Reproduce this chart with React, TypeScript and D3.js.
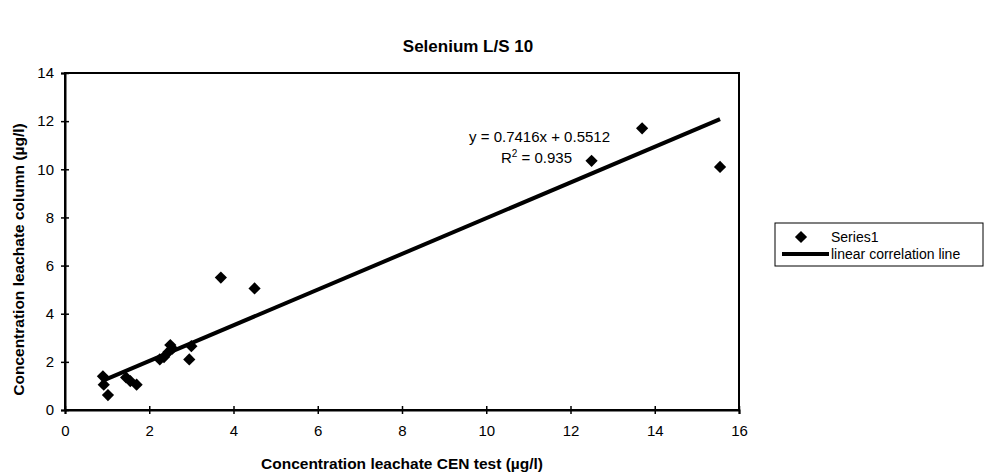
import React, { useRef, useEffect } from 'react'
import * as d3 from 'd3'

// measured values (µg/l)
const cenValues = [0.9, 0.92, 1.02, 1.45, 1.55, 1.7, 2.25, 2.35, 2.45, 2.5, 2.55, 2.95, 3.0, 3.7, 4.5, 12.5, 13.7, 15.55]
const columnValues = [1.4, 1.05, 0.62, 1.35, 1.2, 1.05, 2.1, 2.2, 2.4, 2.7, 2.55, 2.1, 2.65, 5.5, 5.05, 10.35, 11.7, 10.1]
const xTicks = [0, 2, 4, 6, 8, 10, 12, 14, 16]
const yTicks = [0, 2, 4, 6, 8, 10, 12, 14]
const slope = 0.7416
const intercept = 0.5512

const FONT = 'Arial, "Liberation Sans", sans-serif'

export default function App() {
  const svgRef = useRef<SVGSVGElement>(null)

  useEffect(() => {
    if (!svgRef.current) return
    const svg = d3.select(svgRef.current)
    svg.selectAll('*').remove()

    const width = 991
    const height = 475
    const plot = { left: 65, right: 739, top: 73, bottom: 410 }

    svg.append('rect').attr('width', width).attr('height', height).attr('fill', '#fff')

    const x = d3.scaleLinear().domain([0, 16]).range([plot.left, plot.right])
    const y = d3.scaleLinear().domain([0, 14]).range([plot.bottom, plot.top])

    // plot border
    svg.append('rect')
      .attr('x', plot.left).attr('y', plot.top)
      .attr('width', plot.right - plot.left).attr('height', plot.bottom - plot.top)
      .attr('fill', 'none').attr('stroke', '#000').attr('stroke-width', 2)

    // axes
    const xAxis = svg.append('g')
      .attr('transform', `translate(0,${plot.bottom})`)
      .call(d3.axisBottom(x).tickValues(xTicks).tickSize(4).tickPadding(11).tickFormat(d3.format('d')))
    const yAxis = svg.append('g')
      .attr('transform', `translate(${plot.left},0)`)
      .call(d3.axisLeft(y).tickValues(yTicks).tickSize(4).tickPadding(7).tickFormat(d3.format('d')))

    ;[xAxis, yAxis].forEach(a => {
      a.select('.domain').attr('stroke', '#000').attr('stroke-width', 2)
      a.selectAll('line').attr('stroke', '#000').attr('stroke-width', 1.5)
      a.selectAll('text').attr('font-family', FONT).attr('font-size', 15).attr('fill', '#000')
    })
    xAxis.selectAll('.tick line').attr('y1', -4)
    yAxis.selectAll('.tick line').attr('x1', 4)

    // regression line
    const xMin = d3.min(cenValues) as number
    const xMax = d3.max(cenValues) as number
    svg.append('line')
      .attr('x1', x(xMin)).attr('y1', y(slope * xMin + intercept))
      .attr('x2', x(xMax)).attr('y2', y(slope * xMax + intercept))
      .attr('stroke', '#000').attr('stroke-width', 4)

    // points
    const diamond = d3.symbol().type(d3.symbolDiamond2).size(95)
    svg.append('g').selectAll('path')
      .data(cenValues.map((v, i) => [v, columnValues[i]]))
      .enter().append('path')
      .attr('d', diamond)
      .attr('transform', d => `translate(${x(d[0])},${y(d[1])})`)
      .attr('fill', '#000')

    // equation
    const eq = svg.append('g').attr('font-family', FONT).attr('font-size', 15).attr('fill', '#000')
    eq.append('text').attr('x', 610).attr('y', 142).attr('text-anchor', 'end')
      .text(`y = ${slope}x + ${intercept}`)
    const r2 = eq.append('text').attr('x', 572).attr('y', 163).attr('text-anchor', 'end')
    r2.append('tspan').text('R')
    r2.append('tspan').attr('font-size', 10).attr('dy', -6).text('2')
    r2.append('tspan').attr('dy', 6).text(' = 0.935')

    // title
    svg.append('text').attr('x', 468).attr('y', 52).attr('text-anchor', 'middle')
      .attr('font-family', FONT).attr('font-size', 17).attr('font-weight', 'bold')
      .text('Selenium L/S 10')

    svg.append('text').attr('x', 402).attr('y', 469).attr('text-anchor', 'middle')
      .attr('font-family', FONT).attr('font-size', 15.5).attr('font-weight', 'bold')
      .text('Concentration leachate CEN test (µg/l)')

    svg.append('text')
      .attr('transform', `translate(24,${(plot.top + plot.bottom) / 2 + 18}) rotate(-90)`)
      .attr('text-anchor', 'middle')
      .attr('font-family', FONT).attr('font-size', 15.5).attr('font-weight', 'bold')
      .text('Concentration leachate column (µg/l)')

    // legend
    const lg = svg.append('g').attr('font-family', FONT).attr('font-size', 14)
    lg.append('rect').attr('x', 775).attr('y', 223).attr('width', 208).attr('height', 43)
      .attr('fill', '#fff').attr('stroke', '#000').attr('stroke-width', 1)
    lg.append('path').attr('d', diamond).attr('transform', 'translate(801,237)').attr('fill', '#000')
    lg.append('text').attr('x', 831).attr('y', 242).text('Series1')
    lg.append('line').attr('x1', 782).attr('x2', 829).attr('y1', 254).attr('y2', 254)
      .attr('stroke', '#000').attr('stroke-width', 4)
    lg.append('text').attr('x', 831).attr('y', 259).text('linear correlation line')
  }, [])

  return <svg ref={svgRef} width={991} height={475} style={{ display: 'block', position: 'absolute', left: 0, top: 0 }} />
}
